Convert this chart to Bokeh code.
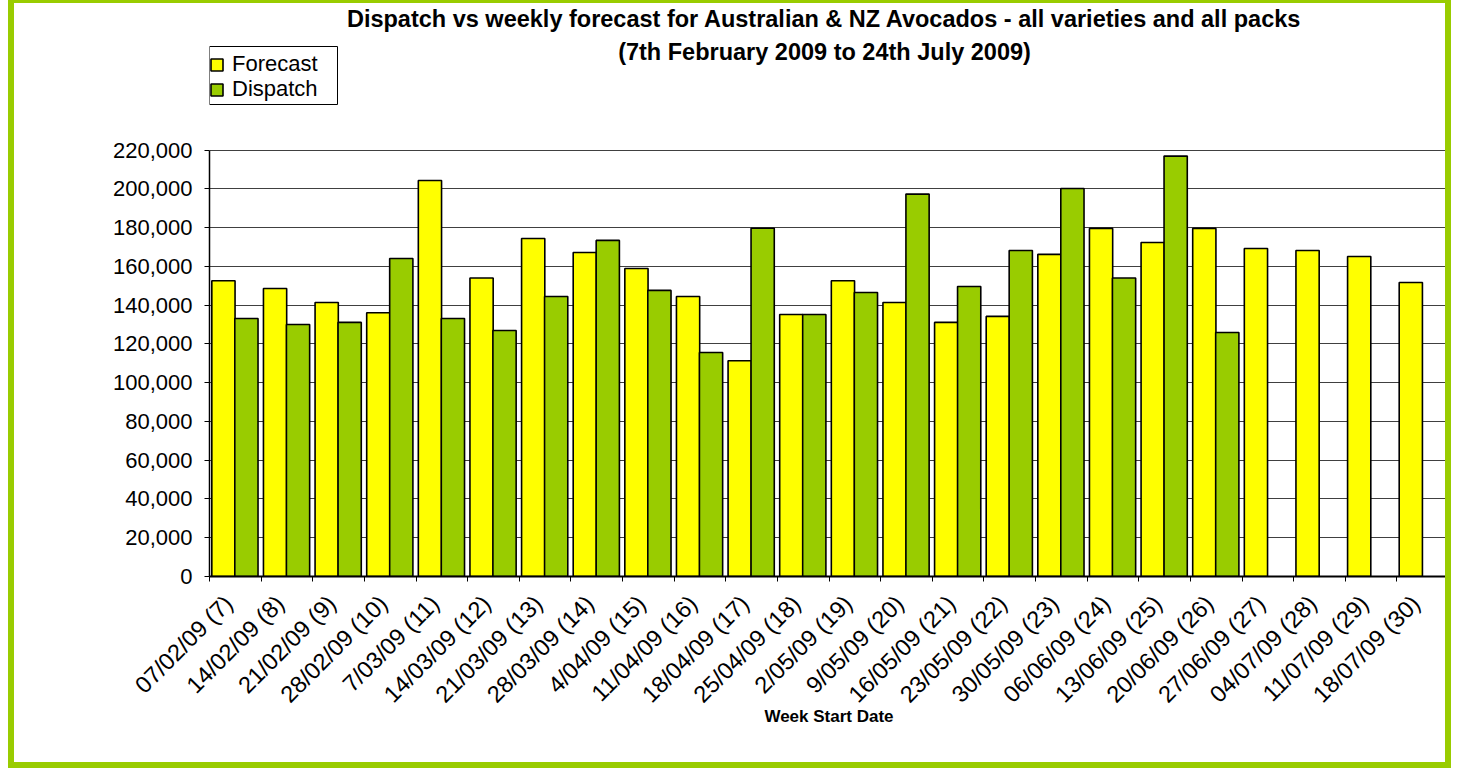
import math
import numpy as np
from bokeh.plotting import figure
from bokeh.models import (Range1d, FixedTicker, NumeralTickFormatter, Legend, LegendItem, Label,
                          BoxAnnotation)
from bokeh.embed import file_html
from bokeh.resources import INLINE

# ---- data ----
weeks = ["07/02/09 (7)", "14/02/09 (8)", "21/02/09 (9)", "28/02/09 (10)", "7/03/09 (11)",
         "14/03/09 (12)", "21/03/09 (13)", "28/03/09 (14)", "4/04/09 (15)", "11/04/09 (16)",
         "18/04/09 (17)", "25/04/09 (18)", "2/05/09 (19)", "9/05/09 (20)", "16/05/09 (21)",
         "23/05/09 (22)", "30/05/09 (23)", "06/06/09 (24)", "13/06/09 (25)", "20/06/09 (26)",
         "27/06/09 (27)", "04/07/09 (28)", "11/07/09 (29)", "18/07/09 (30)"]
forecast = [152600, 148600, 141400, 136100, 204300, 154000, 174400, 167200, 158900, 144500,
            111300, 135200, 152600, 141400, 131100, 134200, 166200, 179600, 172300, 179600,
            169200, 168200, 165100, 151700]
dispatch = [133100, 130000, 131100, 164100, 133100, 126900, 144500, 173400, 147600, 115600,
            179700, 135200, 146500, 197300, 149600, 168200, 200200, 154000, 216900, 125900]
y_ticks = list(range(0, 220001, 20000))
y_max = 220000
series_names = ["Forecast", "Dispatch"]

title1 = "Dispatch vs weekly forecast for Australian & NZ Avocados - all varieties and all packs"
title2 = "(7th February 2009 to 24th July 2009)"

YELLOW = "#ffff00"
GREEN = "#99cc00"
FONT = "Liberation Sans"

# ---- layout constants (page px) ----
W, H = 1443, 768
BL, BT, BR, BB = 6, 3, 6, 6
left_border = 195
bottom_border = 195
right_border = 9
frame_h = H - bottom_border
px_per_220k = 426.4
y_top = y_max * frame_h / px_per_220k   # frame reaches up to the canvas top (room for title)
axis_page_y = BT + frame_h                # page y of the x axis
frame_page_x = 8 + BL + left_border       # page x of the y axis
label_shift = 0.13                        # rotated labels end slightly left of the category centre

n = len(weeks)
centers = np.arange(n) + 0.5
fx = centers - 0.23
dx = centers[:len(dispatch)] + 0.215
label_pos = centers - label_shift

p = figure(width=W, height=H, x_range=Range1d(0, n), y_range=Range1d(0, y_top),
           output_backend="svg", toolbar_location=None, title=None,
           min_border_left=left_border, min_border_right=right_border, min_border_top=0,
           min_border_bottom=bottom_border)
p.styles = {"border-style": "solid", "border-color": GREEN,
            "border-width": f"{BT}px {BR}px {BB}px {BL}px", "margin-left": "8px"}
p.outline_line_color = None
p.background_fill_color = "white"
p.border_fill_color = "white"

rf = p.vbar(x=fx, top=forecast, width=0.45, bottom=0, fill_color=YELLOW,
            line_color="black", line_width=1.6)
rd = p.vbar(x=dx, top=dispatch, width=0.45, bottom=0, fill_color=GREEN,
            line_color="black", line_width=1.6)

# y axis
p.yaxis.ticker = FixedTicker(ticks=y_ticks)
p.yaxis.bounds = (0, y_max)
p.yaxis.formatter = NumeralTickFormatter(format="0,0")
p.yaxis.major_label_text_font = FONT
p.yaxis.major_label_text_font_size = "22px"
p.yaxis.major_label_text_color = "black"
p.yaxis.major_tick_out = 5
p.yaxis.major_tick_in = 0
p.yaxis.minor_tick_line_color = None
p.yaxis.major_label_standoff = 12
p.yaxis.axis_line_width = 1.5
p.yaxis.axis_line_color = "black"

# x axis
p.xaxis.ticker = FixedTicker(ticks=list(label_pos), minor_ticks=list(range(n + 1)))
p.xaxis.major_label_overrides = {float(c): w for c, w in zip(label_pos, weeks)}
p.xaxis.major_tick_out = 0
p.xaxis.major_tick_in = 0
p.xaxis.minor_tick_out = 5
p.xaxis.minor_tick_in = 0
p.xaxis.minor_tick_line_color = "black"
p.xaxis.major_label_orientation = math.pi / 4
p.xaxis.major_label_text_font = FONT
p.xaxis.major_label_text_font_size = "23.5px"
p.xaxis.major_label_text_color = "black"
p.xaxis.major_label_standoff = 18
p.xaxis.axis_line_width = 2
p.xaxis.axis_line_color = "black"
p.xaxis.axis_label = "Week Start Date"
p.xaxis.axis_label_text_font = FONT
p.xaxis.axis_label_text_font_style = "bold"
p.xaxis.axis_label_text_font_size = "17px"
p.xaxis.axis_label_text_color = "black"
p.xaxis.axis_label_standoff = -13

# grid
p.xgrid.visible = False
p.ygrid.ticker = FixedTicker(ticks=y_ticks)
p.ygrid.grid_line_color = "#404040"
p.ygrid.grid_line_width = 1

# title (frame-relative screen units, measured up from the x axis)
for txt, base in ((title1, 18), (title2, 51)):
    p.add_layout(Label(x=824 - frame_page_x, y=axis_page_y - base, x_units="screen",
                       y_units="screen", text=txt, text_align="center",
                       text_baseline="alphabetic", text_font=FONT, text_font_style="bold",
                       text_font_size="23.5px", text_color="black"))

# legend: a framed box holding one row per series
p.add_layout(BoxAnnotation(left=0, right=337 - frame_page_x,
                           top=axis_page_y - 46, bottom=axis_page_y - 104,
                           left_units="screen", right_units="screen",
                           top_units="screen", bottom_units="screen",
                           fill_color="white", fill_alpha=1,
                           line_color="black", line_width=1, line_alpha=1))
for name, rend, row_bottom in ((series_names[0], rf, 77), (series_names[1], rd, 102)):
    p.add_layout(Legend(items=[LegendItem(label=name, renderers=[rend])],
                        location=(0, axis_page_y - row_bottom), orientation="vertical",
                        border_line_color=None, background_fill_alpha=0,
                        label_text_font=FONT, label_text_font_size="22px",
                        label_text_color="black",
                        glyph_width=15, glyph_height=15, label_standoff=8, padding=4,
                        spacing=0, margin=0, label_height=20))

open("out.html", "w").write(file_html(p, INLINE))
